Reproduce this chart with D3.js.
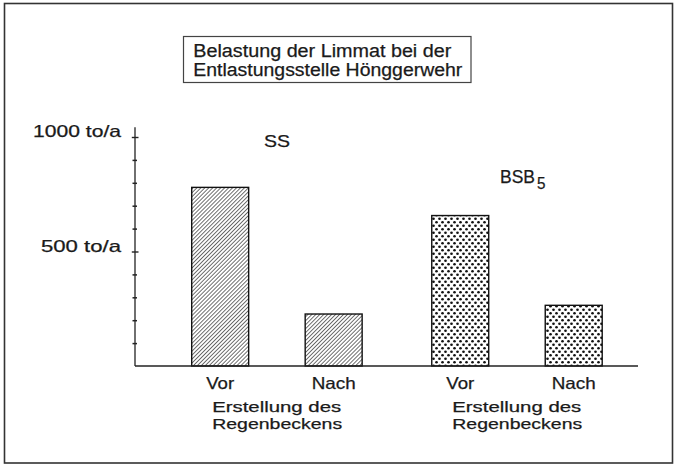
<!DOCTYPE html>
<html>
<head>
<meta charset="utf-8">
<script src="https://cdnjs.cloudflare.com/ajax/libs/d3/7.8.5/d3.min.js"></script>
<style>
  body { margin: 0; background: #fff; }
  svg text { font-family: "Liberation Sans", Arial, sans-serif; fill: #1a1a1a; stroke: #1a1a1a; stroke-width: 0.25px; }
</style>
</head>
<body>
<div class="chart"></div>
<script>
// values (to/a)
var groups = ["SS", "BSB5"];
var phases = ["Vor", "Nach"];
var ssValues = [780, 227];
var bsbValues = [657, 265];
var majorTicks = [500, 1000];
var majorLabels = ["500 to/a", "1000 to/a"];
var minorTicks = [100, 200, 300, 400, 600, 700, 800, 900];
var titleLines = ["Belastung der Limmat bei der", "Entlastungsstelle Hönggerwehr"];
var captionLines = ["Erstellung des", "Regenbeckens"];

var W = 678, H = 466;

var svg = d3.select(".chart")
    .append("svg")
    .attr("width", W)
    .attr("height", H);

var defs = svg.append("defs");

// diagonal hatching for SS
var hatch = defs.append("pattern")
    .attr("id", "hatch")
    .attr("patternUnits", "userSpaceOnUse")
    .attr("width", 2.8)
    .attr("height", 2.8)
    .attr("patternTransform", "rotate(45)");
hatch.append("rect").attr("width", 2.8).attr("height", 2.8).attr("fill", "#fff");
hatch.append("line")
    .attr("x1", 0).attr("y1", 0).attr("x2", 0).attr("y2", 2.8)
    .attr("stroke", "#333")
    .attr("stroke-width", 1.4);

// dot raster for BSB5
var dots = defs.append("pattern")
    .attr("id", "dots")
    .attr("patternUnits", "userSpaceOnUse")
    .attr("width", 6)
    .attr("height", 7);
dots.append("rect").attr("width", 6).attr("height", 7).attr("fill", "#fff");
dots.append("circle").attr("cx", 1.5).attr("cy", 1.75).attr("r", 1.35).attr("fill", "#111");
dots.append("circle").attr("cx", 4.5).attr("cy", 5.25).attr("r", 1.35).attr("fill", "#111");

// outer frame
svg.append("rect")
    .attr("x", 4.5)
    .attr("y", 3.5)
    .attr("width", 668)
    .attr("height", 459.5)
    .attr("fill", "none")
    .attr("stroke", "#333")
    .attr("stroke-width", 1.6);

function label(str, x, y, w, anchor, size) {
    return svg.append("text")
        .attr("x", x)
        .attr("y", y)
        .attr("text-anchor", anchor)
        .attr("textLength", w)
        .attr("lengthAdjust", "spacingAndGlyphs")
        .style("font-size", size + "px")
        .text(str);
}

// title box
svg.append("rect")
    .attr("x", 183.5)
    .attr("y", 36.5)
    .attr("width", 287.5)
    .attr("height", 46)
    .attr("fill", "#fff")
    .attr("stroke", "#444")
    .attr("stroke-width", 1.2);
label(titleLines[0], 193.3, 56.7, 258, "start", 18);
label(titleLines[1], 193.3, 75.7, 269, "start", 18);

var y = d3.scaleLinear()
    .domain([0, 1000])
    .range([366, 137]);

var x0 = d3.scaleBand()
    .domain(groups)
    .range([191.7, 602.2])
    .paddingInner(0.29)
    .paddingOuter(0);

var x1 = d3.scaleBand()
    .domain(phases)
    .range([0, x0.bandwidth()])
    .paddingInner(0.498)
    .paddingOuter(0);

var axisX = 135;

var gy = svg.append("g")
    .attr("transform", "translate(" + axisX + ",0)");

// vertical axis line, running a little past 1000
gy.append("line")
    .attr("x1", 0).attr("x2", 0)
    .attr("y1", y(0)).attr("y2", y(1043))
    .attr("stroke", "#222")
    .attr("stroke-width", 1.3);

var minorAxis = d3.axisLeft(y)
    .tickValues(minorTicks)
    .tickSizeInner(2.5)
    .tickSizeOuter(0)
    .tickFormat("");
gy.append("g").call(minorAxis)
    .call(function(g) { g.select(".domain").remove(); })
    .selectAll("line")
    .attr("x1", 2)
    .attr("stroke", "#222")
    .attr("stroke-width", 1.5);

var majorAxis = d3.axisLeft(y)
    .tickValues(majorTicks)
    .tickSizeInner(3.2)
    .tickSizeOuter(0)
    .tickFormat("");
gy.append("g").call(majorAxis)
    .call(function(g) { g.select(".domain").remove(); })
    .selectAll("line")
    .attr("x1", 3.5)
    .attr("stroke", "#222")
    .attr("stroke-width", 1.4);

var labelW = { 500: 80, 1000: 88 };
majorTicks.forEach(function(v, i) {
    label(majorLabels[i], 121, y(v), labelW[v], "end", 16.5);
});

// bars
var barData = [];
groups.forEach(function(g, gi) {
    var vals = gi === 0 ? ssValues : bsbValues;
    phases.forEach(function(p, pi) {
        barData.push({ group: g, phase: p, value: vals[pi], fill: gi === 0 ? "url(#hatch)" : "url(#dots)" });
    });
});

svg.selectAll("rect.bar")
    .data(barData)
    .enter().append("rect")
    .attr("class", "bar")
    .attr("x", function(d) { return x0(d.group) + x1(d.phase); })
    .attr("y", function(d) { return y(d.value); })
    .attr("width", x1.bandwidth())
    .attr("height", function(d) { return y(0) - y(d.value); })
    .attr("fill", function(d) { return d.fill; })
    .attr("stroke", "#111")
    .attr("stroke-width", 1.4);

// baseline
svg.append("line")
    .attr("x1", axisX)
    .attr("x2", 638)
    .attr("y1", y(0))
    .attr("y2", y(0))
    .attr("stroke", "#222")
    .attr("stroke-width", 1.5);

// category labels under the bars
var phaseW = { Vor: 28, Nach: 44 };
barData.forEach(function(d) {
    label(d.phase, x0(d.group) + x1(d.phase) + x1.bandwidth() / 2, 389, phaseW[d.phase], "middle", 16.5);
});
groups.forEach(function(g) {
    label(captionLines[0], x0(g) + 20.5, 411.5, 129, "start", 15.5);
    label(captionLines[1], x0(g) + 20.5, 429, 130, "start", 15.5);
});

// series names
label("SS", 264, 146.7, 26, "start", 16.5);
label("BSB", 500, 183.3, 35, "start", 17.5);
label("5", 537, 189.3, 8.5, "start", 17);
</script>
</body>
</html>
